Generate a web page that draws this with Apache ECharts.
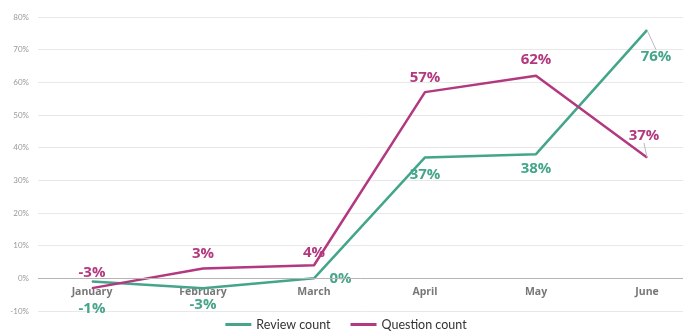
<!DOCTYPE html>
<html>
<head>
<meta charset="utf-8">
<script src="https://cdn.jsdelivr.net/npm/echarts@6/dist/echarts.min.js"></script>
<style>
  html, body { margin: 0; padding: 0; background: #fff; }
  #chart { width: 692px; height: 332px; }
</style>
</head>
<body>
<div id="chart"></div>
<script>
// data
var months = ['January', 'February', 'March', 'April', 'May', 'June'];
var reviewCount = [-1, -3, 0, 37, 38, 76];
var questionCount = [-3, 3, 4, 57, 62, 37];

var teal = '#44a58a';
var magenta = '#b2387f';
var font = 'Lato';
var labelFont = 'Open Sans';

// label placement per point (styling only)
var reviewLabel = [
  { position: 'bottom', distance: 19 },
  { position: 'bottom', distance: 9 },
  { position: 'right', distance: 15 },
  { position: 'bottom', distance: 9 },
  { position: 'bottom', distance: 7 },
  { position: 'bottom', distance: 10 }
];
var questionLabel = [
  { position: 'top', distance: 7 },
  { position: 'top', distance: 7 },
  { position: 'top', distance: 5 },
  { position: 'top', distance: 6 },
  { position: 'top', distance: 8 },
  { position: 'top', distance: 8 }
];

function build(values, labels) {
  return values.map(function (v, i) {
    return {
      value: v,
      label: labels[i],
      // only the last point gets a leader line
      labelLine: { show: i === values.length - 1 }
    };
  });
}

var chart = echarts.init(document.getElementById('chart'));

var option = {
  backgroundColor: '#fff',
  animation: false,
  grid: [
    // background grid for the horizontal lines
    { left: 38, right: 9, top: 17, bottom: 21 },
    // plotting grid
    { left: 92, right: 45, top: 17, bottom: 21 }
  ],
  legend: {
    bottom: -4,
    left: 'center',
    icon: 'rect',
    itemWidth: 26,
    itemHeight: 3,
    itemGap: 20,
    textStyle: { color: '#333', fontSize: 12.5, fontFamily: font },
    data: ['Review count', 'Question count']
  },
  xAxis: [
    { gridIndex: 0, type: 'category', data: months, show: false },
    {
      gridIndex: 1,
      type: 'category',
      data: months,
      boundaryGap: false,
      axisLine: { show: false },
      axisTick: { show: false },
      axisLabel: {
        color: '#777',
        fontSize: 10.5,
        fontWeight: 'bold',
        fontFamily: labelFont,
        // month names sit just under the 0% line, not at the grid bottom
        margin: -24
      }
    }
  ],
  yAxis: [
    {
      gridIndex: 0,
      type: 'value',
      min: -10,
      max: 80,
      interval: 10,
      axisLine: { show: false },
      axisTick: { show: false },
      axisLabel: {
        formatter: '{value}%',
        color: '#999',
        fontSize: 8,
        fontFamily: font,
        margin: 9
      },
      splitLine: {
        lineStyle: { color: '#e8e8e8', width: 1 }
      }
    },
    {
      gridIndex: 1,
      type: 'value',
      min: -10,
      max: 80,
      interval: 10,
      show: false
    }
  ],
  series: [
    {
      // 0% baseline, darker than the other grid lines
      type: 'line',
      xAxisIndex: 0,
      yAxisIndex: 0,
      data: [],
      markLine: {
        silent: true,
        symbol: 'none',
        label: { show: false },
        lineStyle: { color: '#b5b5b5', type: 'solid', width: 1 },
        data: [{ yAxis: 0 }]
      }
    },
    {
      name: 'Review count',
      type: 'line',
      xAxisIndex: 1,
      yAxisIndex: 1,
      data: build(reviewCount, reviewLabel),
      symbol: 'circle',
      symbolSize: 1,
      itemStyle: { color: teal },
      lineStyle: { color: teal, width: 2.5 },
      label: {
        show: true,
        formatter: '{c}%',
        color: teal,
        fontSize: 15,
        fontWeight: 'bold',
        fontFamily: labelFont
      },
      labelLine: { show: false, lineStyle: { color: '#bbb', width: 1 } },
      labelLayout: function (p) {
        if (p.dataIndex === 5) return { dx: 9, dy: 9 };
      },
      z: 3
    },
    {
      name: 'Question count',
      type: 'line',
      xAxisIndex: 1,
      yAxisIndex: 1,
      data: build(questionCount, questionLabel),
      symbol: 'circle',
      symbolSize: 1,
      itemStyle: { color: magenta },
      lineStyle: { color: magenta, width: 2.5 },
      label: {
        show: true,
        formatter: '{c}%',
        color: magenta,
        fontSize: 15,
        fontWeight: 'bold',
        fontFamily: labelFont
      },
      labelLine: { show: false, lineStyle: { color: '#bbb', width: 1 } },
      labelLayout: function (p) {
        if (p.dataIndex === 5) return { dx: -3, dy: -6 };
      },
      z: 4
    }
  ]
};

chart.setOption(option);
</script>
</body>
</html>
